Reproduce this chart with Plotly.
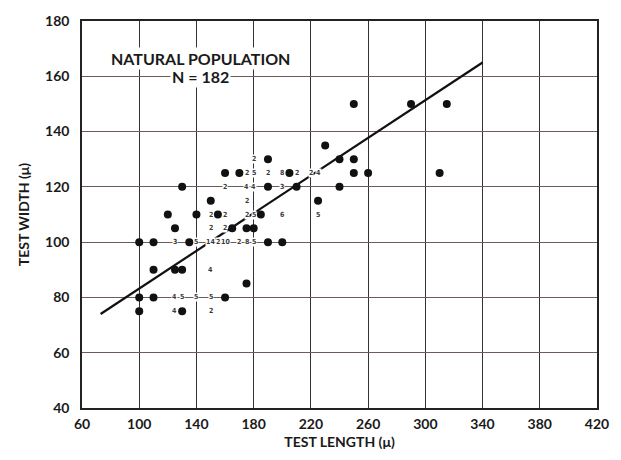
import plotly.graph_objects as go

# Individual specimens (dots)
dot_x = [100, 110, 100, 100, 110, 110, 125, 130, 130, 125, 120, 130, 135, 140, 150, 155,
         160, 170, 165, 175, 180, 175, 160, 185, 190, 190, 190, 200, 205, 210, 225, 230,
         240, 240, 250, 250, 250, 260, 290, 310, 315]
dot_y = [100, 100, 80, 75, 80, 90, 90, 90, 75, 105, 110, 120, 100, 110, 115, 110,
         125, 125, 105, 105, 105, 85, 80, 110, 130, 120, 100, 100, 125, 120, 115, 135,
         130, 120, 130, 125, 150, 125, 150, 125, 150]

# Counts of coincident specimens
count_x = [175, 180, 190, 200, 210, 220, 225,
           180,
           160, 175, 180, 200,
           175,
           150, 160, 175, 180, 200, 225,
           150, 160,
           125, 140, 150, 155, 160, 170, 175, 180,
           150,
           125, 130, 140, 150,
           125, 150]
count_y = [125, 125, 125, 125, 125, 125, 125,
           130,
           120, 120, 120, 120,
           115,
           110, 110, 110, 110, 110, 110,
           105, 105,
           100, 100, 100, 100, 100, 100, 100, 100,
           90,
           80, 80, 80, 80,
           75, 75]
count_n = ["2", "5", "2", "8", "2", "2", "4",
           "2",
           "2", "4", "4", "3",
           "2",
           "2", "2", "2", "5", "6", "5",
           "2", "2",
           "3", "5", "14", "2", "10", "2", "8", "5",
           "4",
           "4", "5", "5", "5",
           "4", "2"]

# Regression line end points
line_x = [73, 340]
line_y = [74, 165]

x_ticks = [60, 100, 140, 180, 220, 260, 300, 340, 380, 420]
y_ticks = [40, 60, 80, 100, 120, 140, 160, 180]

FONT = "Lato"

fig = go.Figure()
fig.add_trace(go.Scatter(x=line_x, y=line_y, mode="lines",
                         line=dict(color="#111111", width=2.2), hoverinfo="skip"))
fig.add_trace(go.Scatter(x=dot_x, y=dot_y, mode="markers",
                         marker=dict(color="#111111", size=8, line=dict(width=0))))

annotations = []
for cx, cy, cn in zip(count_x, count_y, count_n):
    annotations.append(dict(x=cx, y=cy, xref="x", yref="y", text=cn, showarrow=False,
                            font=dict(family="Liberation Sans Narrow, DejaVu Sans Condensed, DejaVu Sans",
                                      size=7, color="#3a3a3a"),
                            bgcolor="white", borderpad=0))

annotations.append(dict(x=143, y=166.6, xref="x", yref="y", text="NATURAL POPULATION",
                        showarrow=False, bgcolor="white", borderpad=1,
                        font=dict(family=FONT, size=16, color="#1a1a1a", weight="bold")))
annotations.append(dict(x=143, y=160, xref="x", yref="y", text="N = 182",
                        showarrow=False, bgcolor="white", borderpad=1,
                        font=dict(family=FONT, size=16, color="#1a1a1a", weight="bold")))

fig.update_layout(
    width=621, height=460,
    margin=dict(l=82, r=23, t=12, b=48),
    paper_bgcolor="white", plot_bgcolor="white",
    showlegend=False,
    annotations=annotations,
    font=dict(family=FONT, size=14, color="#1a1a1a", weight="bold"),
)
fig.update_xaxes(
    range=[60, 420], tickvals=x_ticks, ticktext=[str(v) for v in x_ticks],
    showgrid=True, gridcolor="#333333", gridwidth=1.3,
    showline=True, linecolor="#222222", linewidth=1.5, mirror=True,
    zeroline=False, ticks="", ticklabelstandoff=2,
    title=dict(text="TEST LENGTH (μ)", standoff=7,
               font=dict(family=FONT, size=14, weight="bold")),
    tickfont=dict(family=FONT, size=14, weight="bold"),
)
fig.update_yaxes(
    range=[40, 180], tickvals=y_ticks, ticktext=[str(v) for v in y_ticks],
    showgrid=True, gridcolor="#6e5a5a", gridwidth=1.3,
    showline=True, linecolor="#222222", linewidth=1.5, mirror=True,
    zeroline=False, ticks="", ticklabelstandoff=8,
    title=dict(text="TEST WIDTH (μ)", standoff=12,
               font=dict(family=FONT, size=14, weight="bold")),
    tickfont=dict(family=FONT, size=14, weight="bold"),
)

fig.write_html("out.html")
